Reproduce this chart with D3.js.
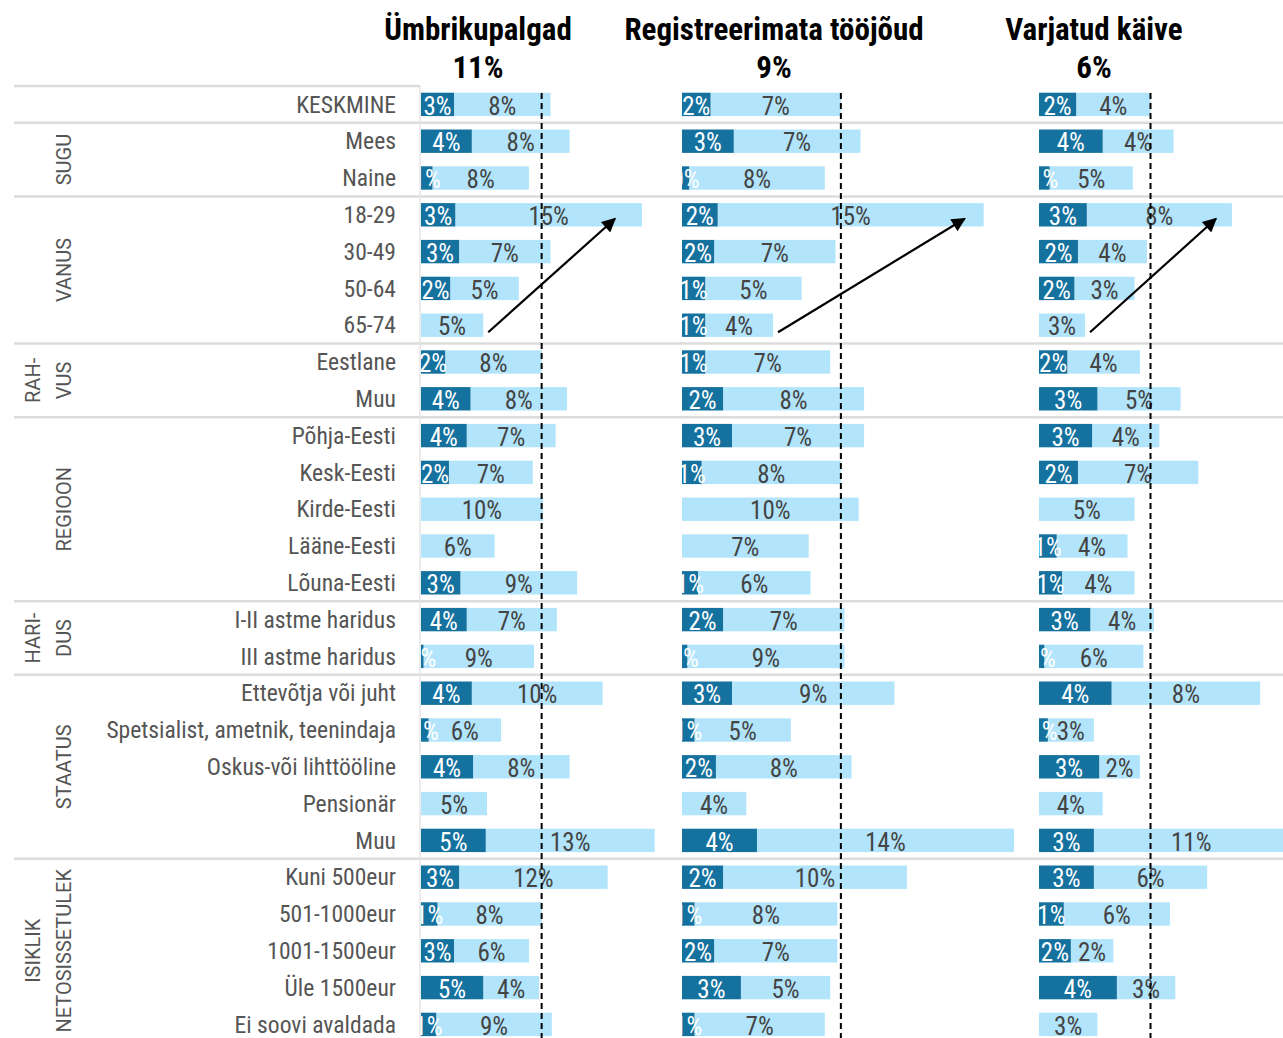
<!DOCTYPE html>
<html>
<head>
<meta charset="utf-8">
<script src="https://cdn.jsdelivr.net/npm/d3@7"></script>
<style>
  body { margin: 0; background: #fff; }
  svg { display: block; }
  .cond { font-family: "Liberation Sans Narrow", "Roboto Condensed", "DejaVu Sans Condensed", Roboto, sans-serif; }
</style>
</head>
<body>
<div class="chart"></div>
<script>
// row categories
var rows = ["KESKMINE", "Mees", "Naine", "18-29", "30-49", "50-64", "65-74",
  "Eestlane", "Muu", "Põhja-Eesti", "Kesk-Eesti", "Kirde-Eesti", "Lääne-Eesti", "Lõuna-Eesti",
  "I-II astme haridus", "III astme haridus",
  "Ettevõtja või juht", "Spetsialist, ametnik, teenindaja", "Oskus-või lihttööline", "Pensionär", "Muu",
  "Kuni 500eur", "501-1000eur", "1001-1500eur", "Üle 1500eur", "Ei soovi avaldada"];

// groups of rows
var groupNames = [["SUGU"], ["VANUS"], ["RAH-", "VUS"], ["REGIOON"], ["HARI-", "DUS"], ["STAATUS"], ["ISIKLIK", "NETOSISSETULEK"]];
var groupFirst = [1, 3, 7, 9, 14, 16, 21];
var groupLast  = [2, 6, 8, 13, 15, 20, 25];

// panels
var titles = ["Ümbrikupalgad", "Registreerimata tööjõud", "Varjatud käive"];
var titleValues = ["11%", "9%", "6%"];
var avgLine = [9.5, 8.9, 6.3];

// dark = regularly, light = sometimes (%)
var dark1  = [2.6, 4.0, 0.9, 2.7, 3.0, 2.3, 0, 1.9, 3.9, 3.6, 2.2, 0, 0, 3.1, 3.6, 0.2, 4.0, 0.6, 4.1, 0, 5.1, 3.0, 1.3, 2.6, 4.9, 1.2];
var light1 = [7.6, 7.7, 7.6, 14.7, 7.2, 5.4, 4.9, 7.6, 7.6, 7.0, 6.6, 9.6, 5.8, 9.2, 7.1, 8.7, 10.3, 5.7, 7.6, 5.2, 13.3, 11.7, 8.2, 5.9, 4.4, 9.1];
var dark2  = [1.6, 2.9, 0.4, 2.0, 1.8, 1.3, 1.3, 1.3, 2.3, 2.8, 1.1, 0, 0, 0.9, 2.3, 0.3, 2.8, 0.7, 1.9, 0, 4.2, 2.3, 0.7, 1.8, 3.3, 0.7];
var light2 = [7.3, 7.1, 7.6, 14.9, 6.8, 5.4, 3.8, 7.0, 7.9, 7.4, 7.8, 9.9, 7.1, 6.3, 6.8, 8.8, 9.1, 5.4, 7.6, 3.6, 14.4, 10.3, 8.0, 6.9, 5.0, 7.3];
var dark3  = [2.1, 3.6, 0.6, 2.7, 2.2, 2.0, 0, 1.6, 3.3, 3.0, 2.2, 0, 1.0, 1.3, 2.9, 0.3, 4.1, 0.5, 3.4, 0, 3.1, 3.1, 1.4, 1.8, 4.4, 0];
var light3 = [4.2, 4.0, 4.7, 8.2, 3.9, 3.4, 2.6, 4.1, 4.7, 3.8, 6.8, 5.4, 4.0, 4.1, 3.6, 5.6, 8.4, 2.6, 2.3, 3.6, 11.0, 6.4, 6.0, 2.4, 3.3, 3.3];

var darkSets = [dark1, dark2, dark3];
var lightSets = [light1, light2, light3];

var width = 1283, height = 1038;
var panelX = [421, 682, 1039];
var panelW = [254, 357, 354];
var titleX = [478, 774, 1094];
var arrowInset = [27, 19, 16];

var darkColor = "#15729f", lightColor = "#b2e5fc";

var svg = d3.select(".chart").append("svg")
    .attr("width", width)
    .attr("height", height);

var defs = svg.append("defs");
defs.append("marker")
    .attr("id", "arrow")
    .attr("viewBox", "0 0 10 10")
    .attr("refX", 9).attr("refY", 5)
    .attr("markerUnits", "userSpaceOnUse")
    .attr("markerWidth", 17).attr("markerHeight", 14)
    .attr("orient", "auto")
  .append("path")
    .attr("d", "M0,0 L10,5 L0,10 z")
    .attr("fill", "#000");

var y = d3.scaleBand()
    .domain(d3.range(rows.length))
    .range([86, 86 + rows.length * 36.8]);
var barH = 23.4;

// separators
var sepRows = [1].concat(groupFirst.slice(1));
svg.append("line")
    .attr("x1", 14).attr("x2", 420).attr("y1", 86).attr("y2", 86)
    .attr("stroke", "#dcdcdc").attr("stroke-width", 2.5);
svg.selectAll(".sep")
  .data(sepRows)
  .enter().append("line")
    .attr("class", "sep")
    .attr("x1", 14).attr("x2", width)
    .attr("y1", function(d) { return y(d); })
    .attr("y2", function(d) { return y(d); })
    .attr("stroke", "#dcdcdc").attr("stroke-width", 2.5);
svg.append("line")
    .attr("x1", 420).attr("x2", 420).attr("y1", 86).attr("y2", height)
    .attr("stroke", "#e4e4e4").attr("stroke-width", 1.5);

// row labels
svg.selectAll(".rowLabel")
  .data(rows)
  .enter().append("text")
    .attr("class", "rowLabel cond")
    .attr("x", 396)
    .attr("y", function(d, i) { return y(i) + y.bandwidth() / 2; })
    .attr("dy", ".35em")
    .attr("text-anchor", "end")
    .attr("font-size", "23.6px")
    .attr("fill", "#555")
    .text(function(d) { return d; });

// group labels (rotated)
groupNames.forEach(function(lines, g) {
  var cy = (y(groupFirst[g]) + y(groupLast[g]) + y.bandwidth()) / 2;
  var xs = lines.length === 1 ? [64] : [33, 64];
  lines.forEach(function(t, k) {
    svg.append("text")
        .attr("transform", "translate(" + (xs[k] + 7) + "," + cy + ") rotate(-90)")
        .attr("text-anchor", "middle")
        .attr("font-family", "Roboto, sans-serif")
        .attr("font-size", "20px")
        .attr("fill", "#555")
        .text(t);
  });
});

// panels
titles.forEach(function(title, p) {
  var x = d3.scaleLinear().domain([0, 20]).range([panelX[p], panelX[p] + panelW[p]]);
  var dark = darkSets[p], light = lightSets[p];

  svg.append("text")
      .attr("class", "cond")
      .attr("x", titleX[p]).attr("y", 40)
      .attr("text-anchor", "middle")
      .attr("font-size", "31px").attr("font-weight", "bold")
      .attr("fill", "#000")
      .text(title);
  svg.append("text")
      .attr("class", "cond")
      .attr("x", titleX[p]).attr("y", 78)
      .attr("text-anchor", "middle")
      .attr("font-size", "31px").attr("font-weight", "bold")
      .attr("fill", "#000")
      .text(titleValues[p]);

  defs.append("clipPath").attr("id", "clip" + p)
    .append("rect")
      .attr("x", panelX[p]).attr("y", 0)
      .attr("width", p < 2 ? panelX[p + 1] - panelX[p] - 8 : width - panelX[p])
      .attr("height", height);

  var g = svg.append("g").attr("clip-path", "url(#clip" + p + ")");

  var items = rows.map(function(r, i) { return {i: i, d: dark[i], l: light[i]}; });

  g.selectAll(".light")
    .data(items)
    .enter().append("rect")
      .attr("x", function(d) { return x(d.d); })
      .attr("y", function(d) { return y(d.i) + (y.bandwidth() - barH) / 2; })
      .attr("width", function(d) { return x(d.d + d.l) - x(d.d); })
      .attr("height", barH)
      .attr("fill", lightColor);

  g.selectAll(".dark")
    .data(items.filter(function(d) { return d.d > 0; }))
    .enter().append("rect")
      .attr("x", x(0))
      .attr("y", function(d) { return y(d.i) + (y.bandwidth() - barH) / 2; })
      .attr("width", function(d) { return x(d.d) - x(0); })
      .attr("height", barH)
      .attr("fill", darkColor);

  g.selectAll(".lightLabel")
    .data(items)
    .enter().append("text")
      .attr("class", "cond")
      .attr("x", function(d) { return (x(d.d) + x(d.d + d.l)) / 2; })
      .attr("y", function(d) { return y(d.i) + y.bandwidth() / 2 + 1.5; })
      .attr("dy", ".35em")
      .attr("text-anchor", "middle")
      .attr("font-size", "25px")
      .attr("fill", "#444")
      .text(function(d) { return Math.round(d.l) + "%"; });

  g.selectAll(".darkLabel")
    .data(items.filter(function(d) { return d.d > 0; }))
    .enter().append("text")
      .attr("class", "cond")
      .attr("x", function(d) { return (x(0) + x(d.d)) / 2; })
      .attr("y", function(d) { return y(d.i) + y.bandwidth() / 2 + 1.5; })
      .attr("dy", ".35em")
      .attr("text-anchor", "middle")
      .attr("font-size", "25px")
      .attr("fill", "#fff")
      .text(function(d) { return Math.round(d.d) + "%"; });

  // average line
  svg.append("line")
      .attr("x1", x(avgLine[p])).attr("x2", x(avgLine[p]))
      .attr("y1", 93).attr("y2", height)
      .attr("stroke", "#000").attr("stroke-width", 2)
      .attr("stroke-dasharray", "6,4");

  // arrow from oldest to youngest age group
  var from = items[6], to = items[3];
  svg.append("line")
      .attr("x1", x(from.d + from.l) + 5)
      .attr("y1", y(from.i) + y.bandwidth() / 2 + 7)
      .attr("x2", x(to.d + to.l) - arrowInset[p])
      .attr("y2", y(to.i) + y.bandwidth() / 2 + 4)
      .attr("stroke", "#000").attr("stroke-width", 2.2)
      .attr("marker-end", "url(#arrow)");
});
</script>
</body>
</html>
